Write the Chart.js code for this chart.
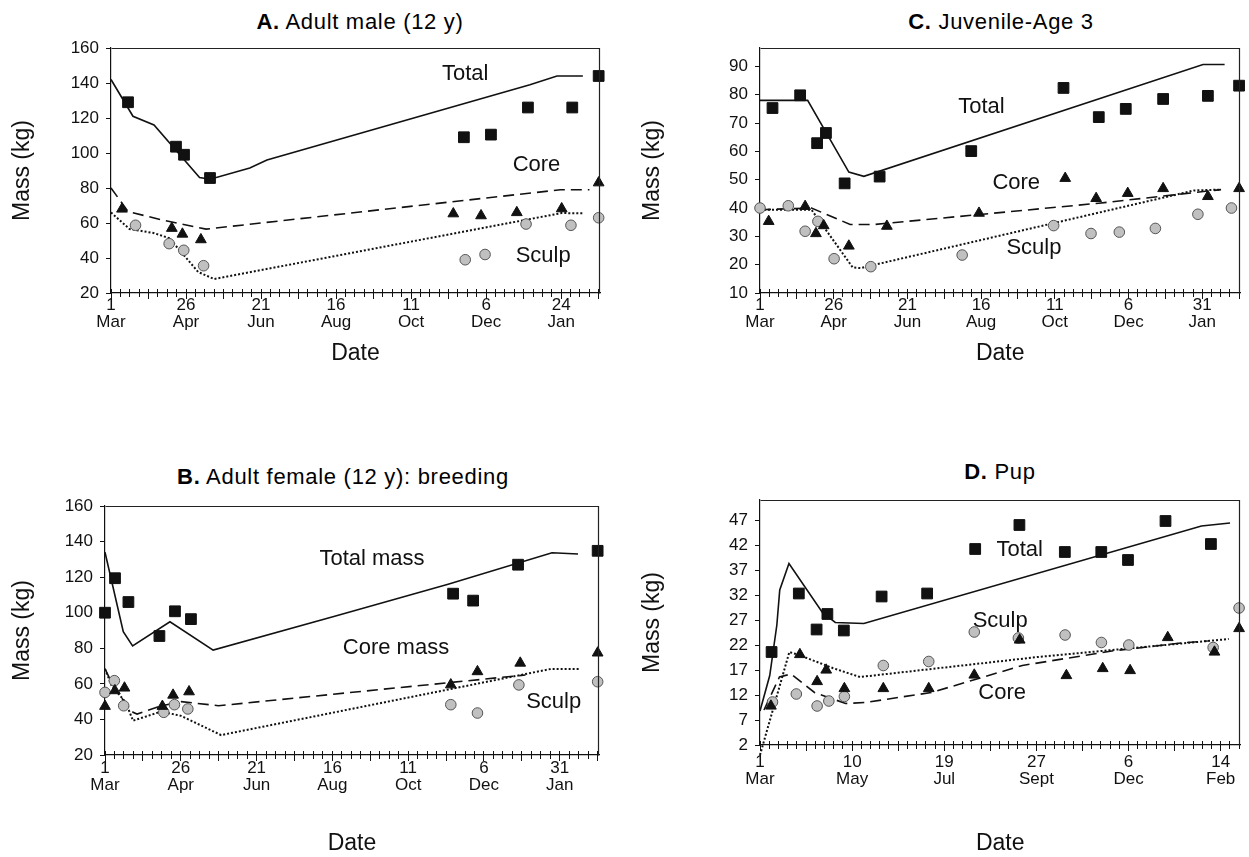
<!DOCTYPE html>
<html>
<head>
<meta charset="utf-8">
<script src="https://cdn.jsdelivr.net/npm/chart.js@4.4.1/dist/chart.umd.min.js"></script>
<style>
  body { margin: 0; background: #fff; width: 1249px; height: 857px; position: relative; overflow: hidden;
         font-family: "Liberation Sans", Arial, sans-serif; }
  canvas { position: absolute; }
  .ttl { position: absolute; font-size: 22px; letter-spacing: 0.7px; line-height: 22px; white-space: nowrap;
         transform: translate(-50%, -50%); color: #000; }
</style>
</head>
<body>
<div class="ttl" style="left:360px;top:22px"><b>A.</b> Adult male (12 y)</div>
<div class="ttl" style="left:1001px;top:22px"><b>C.</b> Juvenile-Age 3</div>
<div class="ttl" style="left:343px;top:477px"><b>B.</b> Adult female (12 y): breeding</div>
<div class="ttl" style="left:1000px;top:472px"><b>D.</b> Pup</div>

<canvas id="cA" width="625" height="367" style="left:0;top:0"></canvas>
<canvas id="cC" width="619" height="367" style="left:630px;top:0"></canvas>
<canvas id="cB" width="625" height="417" style="left:0;top:440px"></canvas>
<canvas id="cD" width="619" height="417" style="left:630px;top:440px"></canvas>

<script>
// x values are days after 1 March, y values are mass in kg

// A. Adult male (12 y)
const aTotalLine = [[0,142],[16.4,121],[32.1,116],[66.1,86],[74,85],[103.6,91.4],[116.4,96],[312.7,139],[332.9,144],[352.2,144]];
const aCoreLine  = [[0,80],[12.8,66.5],[39.5,61.5],[71,56.5],[335.4,79],[357.1,79]];
const aSculpLine = [[0,66],[13.8,56.6],[31.6,54.3],[43.4,51.4],[65.1,32],[76.9,28],[336.4,65.7],[353.2,65.5]];
const aTotalPts  = [[12.7,129],[48.5,103.6],[54.5,99],[73.9,85.7],[263.4,109],[283.6,110.5],[311.2,126],[344.3,126],[364,144]];
const aCorePts   = [[8.2,68],[45.4,57],[53.3,53.7],[67.1,50.5],[255.5,65.3],[276.2,64.2],[302.9,66],[336.4,68.2],[364,83]];
const aSculpPts  = [[18.3,58.7],[43.4,48.2],[54.3,44.4],[69.1,35.6],[264.4,39],[279.2,42],[309.8,59.4],[343.3,58.7],[364,63]];
const aMassTicks = [20,40,60,80,100,120,140,160];
const aLabelDays = [0,56,112,168,224,280,336];
const aLabels    = [['1','Mar'],['26','Apr'],['21','Jun'],['16','Aug'],['11','Oct'],['6','Dec'],['24','Jan']];
const aNotes     = [['Total',264.4,145],['Core',317.6,93],['Sculp',322.6,41]];

// B. Adult female (12 y): breeding
const bTotalLine = [[0,134],[13.5,89.3],[20.4,81.3],[48,94.9],[79.9,79],[169.7,98],[253.5,116],[330.3,133.7],[349.5,133]];
const bCoreLine  = [[0,68.4],[7.9,56.2],[20.7,44],[23.7,43],[40.4,47.4],[56.2,50],[83.9,47.7],[310.7,65]];
const bSculpLine = [[0,68.4],[4.9,59],[15.3,49.6],[20.7,39.3],[41.4,44.4],[56.2,42],[85.8,31.2],[329.5,68.4],[350.2,68.4]];
const bTotalPts  = [[0,100],[7.4,119.4],[17.3,106],[40.2,86.9],[51.7,100.8],[63.5,96.4],[257.2,110.7],[272,106.8],[305.2,127],[364,134.8]];
const bCorePts   = [[0,47.4],[7.3,56.2],[14.4,57.7],[42.4,47.4],[50.3,53.7],[62.1,55.6],[255.5,59.5],[275.2,66.9],[306.8,71.7],[364,77.4]];
const bSculpPts  = [[0,55.2],[6.9,61.8],[13.8,47.7],[43.4,44],[51.3,48.3],[61.2,45.9],[255.5,48.3],[275.2,43.6],[305.8,59.4],[364,61.2]];
const bMassTicks = [20,40,60,80,100,120,140,160];
const bLabelDays = [0,56,112,168,224,280,336];
const bLabels    = [['1','Mar'],['26','Apr'],['21','Jun'],['16','Aug'],['11','Oct'],['6','Dec'],['31','Jan']];
const bNotes     = [['Total mass',197.3,130.3],['Core mass',215,80],['Sculp',331.5,50]];

// C. Juvenile-Age 3
const cTotalLine = [[0,78],[36.2,78],[67.5,52.7],[78.9,51.2],[336.6,90.7],[353,90.7]];
const cCoreLine  = [[0,39.4],[39.1,40],[68.5,34.2],[87.1,34.2],[257.4,41.7],[350.3,46.5]];
const cSculpLine = [[0,39.4],[39.1,39.4],[70.5,19],[76.3,18.8],[329.8,46.2],[350.3,46.5]];
const cTotalPts  = [[9.5,75.3],[30.5,79.8],[43.4,62.9],[50.1,66.5],[64.3,48.7],[90.9,51.1],[160.5,60.1],[230.6,82.4],[257.4,72.1],[277.9,75],[306.3,78.5],[340.3,79.6],[364,83.2]];
const cCorePts   = [[6.6,35.3],[34.3,40.6],[42.5,31],[48.4,33.8],[67.5,26.6],[96.4,33.6],[166.4,38.2],[231.9,50.5],[255.4,43.4],[279.4,45.2],[306.3,46.9],[340.3,44.1],[364,46.9]];
const cSculpPts  = [[0,40],[21.5,40.8],[34.3,31.8],[44,35.3],[56.3,22.1],[84.2,19.3],[153.6,23.4],[223.1,33.8],[251.5,31],[273,31.5],[300.4,32.8],[332.7,37.8],[358.2,40]];
const cMassTicks = [10,20,30,40,50,60,70,80,90];
const cLabelDays = [0,56,112,168,224,280,336];
const cLabels    = [['1','Mar'],['26','Apr'],['21','Jun'],['16','Aug'],['11','Oct'],['6','Dec'],['31','Jan']];
const cNotes     = [['Total',168.3,75.7],['Core',194.7,48.8],['Sculp',208.1,26]];

// D. Pup
const dTotalLine = [[0,8.8],[7.4,15.9],[12.8,26],[15,33],[22,38.3],[47.4,28.5],[57.2,26.5],[78.9,26.3],[335.4,45.8],[357.1,46.4]];
const dCoreLine  = [[3,9],[14.8,15.6],[23.7,16.2],[41.4,12.5],[65.1,10.3],[79.9,10.5],[130.2,12.5],[199.3,17.9],[267.3,20.8],[323.6,22.5],[340.3,22.8]];
const dSculpLine = [[0,0],[22.3,20.6],[29.6,20],[55.2,17.4],[76,15.6],[211.1,19.6],[356.1,23.2]];
const dTotalPts  = [[8.8,20.6],[29.5,32.3],[43,25.1],[51.2,28.2],[63.7,24.9],[92.4,31.7],[127,32.3],[163.5,41.2],[197.1,46],[231.6,40.6],[259.3,40.6],[279.6,39],[308.1,46.8],[342.6,42.2]];
const dCorePts   = [[8.3,9.8],[30.3,20.1],[43.4,14.7],[50.3,17],[64.1,13.3],[93.7,13.3],[128.2,13.3],[162.8,16],[197.3,23],[232.8,15.9],[260.4,17.3],[281.2,16.9],[309.8,23.5],[345.3,20.6],[364,25.3]];
const dSculpPts  = [[9.5,10.6],[27.6,12.2],[43.4,9.8],[52.3,10.8],[64.1,11.7],[93.7,17.9],[128.2,18.7],[162.8,24.6],[196.3,23.4],[231.8,24],[259.4,22.5],[280.2,22],[344.3,21.5],[364,29.4]];
const dMassTicks = [2,7,12,17,22,27,32,37,42,47];
const dLabelDays = [0,70,140,210,280,350];
const dLabels    = [['1','Mar'],['10','May'],['19','Jul'],['27','Sept'],['6','Dec'],['14','Feb']];
const dNotes     = [['Total',197.3,41],['Sculp',182.5,26.8],['Core',184,12.5]];

Chart.defaults.font.family = '"Liberation Sans", Arial, sans-serif';
Chart.defaults.color = '#000';

const INK = '#111';

const notesPlugin = {
  id: 'notes',
  afterDatasetsDraw(chart, args, opts) {
    const { ctx, scales: { x, y } } = chart;
    ctx.save();
    ctx.font = '22px "Liberation Sans", Arial, sans-serif';
    ctx.fillStyle = INK;
    ctx.textAlign = 'center';
    ctx.textBaseline = 'middle';
    (opts.items || []).forEach(([text, dx, dy]) => {
      ctx.fillText(text, x.getPixelForValue(dx), y.getPixelForValue(dy));
    });
    ctx.restore();
  }
};

// box round the plot area (top and right sides)
const framePlugin = {
  id: 'frame',
  afterDraw(chart) {
    const { ctx, chartArea: a } = chart;
    ctx.save();
    ctx.strokeStyle = '#222';
    ctx.lineWidth = 1.2;
    ctx.beginPath();
    ctx.moveTo(Math.round(a.left) + 0.5, Math.round(a.top) + 0.5);
    ctx.lineTo(Math.round(a.right) - 0.5, Math.round(a.top) + 0.5);
    ctx.lineTo(Math.round(a.right) - 0.5, Math.round(a.bottom) + 0.5);
    ctx.stroke();
    ctx.restore();
  }
};

const steps = (step, max) => {
  const t = [];
  for (let v = 0; v <= max + 1e-6; v += step) t.push({ value: v });
  return t;
};
const xy = arr => arr.map(([x, y]) => ({ x, y }));

function lineSet(data, dash, width) {
  return { data: xy(data), showLine: true, pointRadius: 0, borderColor: INK, borderWidth: width,
           borderDash: dash, tension: 0, clip: false, order: 2 };
}
function pointSet(data, style, radius, fill, edge) {
  return { data: xy(data), showLine: false, pointStyle: style, pointRadius: radius,
           pointBackgroundColor: fill, pointBorderColor: edge, pointBorderWidth: 1, clip: false, order: 1 };
}

function makePanel(id, p) {
  const minorAxis = (len) => ({
    type: 'linear', axis: 'x', min: 0, max: p.xMax, position: { y: p.yMin },
    afterBuildTicks: s => { s.ticks = steps(7, p.xMax); },
    ticks: { display: false },
    grid: { display: true, drawOnChartArea: false, tickLength: len, color: INK, tickWidth: 1 },
    border: { display: false }
  });

  new Chart(document.getElementById(id), {
    type: 'scatter',
    data: {
      datasets: [
        pointSet(p.totalPts, 'rect', 7.6, INK, INK),
        pointSet(p.corePts, 'triangle', 6.2, INK, INK),
        pointSet(p.sculpPts, 'circle', 5.3, '#c0c0c0', '#555'),
        lineSet(p.total, [], 1.6),
        lineSet(p.core, [11, 6], 1.6),
        lineSet(p.sculp, [2, 2], 2)
      ]
    },
    options: {
      responsive: false,
      animation: false,
      layout: { padding: p.pad },
      plugins: { legend: { display: false }, tooltip: { enabled: false }, notes: { items: p.notes } },
      scales: {
        x: {
          type: 'linear', min: 0, max: p.xMax, position: 'bottom',
          afterBuildTicks: s => { s.ticks = steps(p.majorStep, p.xMax); },
          afterFit: s => { s.height = p.xHeight; },
          ticks: {
            autoSkip: false, maxRotation: 0, padding: p.labelPad, color: INK,
            font: { size: 17, lineHeight: 1.0 },
            callback: v => { const i = p.labelDays.indexOf(v); return i >= 0 ? p.labels[i] : ''; }
          },
          grid: { display: true, drawOnChartArea: false, tickLength: 6, color: INK },
          border: { color: INK, width: 1.2 },
          title: { display: true, text: 'Date', color: INK, font: { size: 23 }, padding: { bottom: 0, top: 0 } }
        },
        xm: minorAxis(4),
        xu: minorAxis(-4),
        y: {
          type: 'linear', min: p.yMin, max: p.yMax,
          afterBuildTicks: s => { s.ticks = p.yTicks.map(v => ({ value: v })); },
          afterFit: s => { s.width = p.yWidth; },
          ticks: { padding: 7, color: INK, font: { size: 17 } },
          grid: { display: true, drawOnChartArea: false, tickLength: 5, color: INK },
          border: { color: INK, width: 1.2 },
          title: { display: true, text: 'Mass (kg)', color: INK, font: { size: 23 }, padding: { top: 9, bottom: 0 } }
        }
      }
    },
    plugins: [notesPlugin, framePlugin]
  });
}

makePanel('cA', {
  total: aTotalLine, core: aCoreLine, sculp: aSculpLine,
  totalPts: aTotalPts, corePts: aCorePts, sculpPts: aSculpPts,
  yTicks: aMassTicks, yMin: 20, yMax: 160, xMax: 365, majorStep: 28,
  labelDays: aLabelDays, labels: aLabels, notes: aNotes, labelPad: -2,
  yWidth: 111, xHeight: 74, pad: { top: 48, right: 25, left: 0, bottom: 0 }
});
makePanel('cB', {
  total: bTotalLine, core: bCoreLine, sculp: bSculpLine,
  totalPts: bTotalPts, corePts: bCorePts, sculpPts: bSculpPts,
  yTicks: bMassTicks, yMin: 20, yMax: 160, xMax: 365, majorStep: 28,
  labelDays: bLabelDays, labels: bLabels, notes: bNotes, labelPad: -1,
  yWidth: 105, xHeight: 102, pad: { top: 66, right: 26, left: 0, bottom: 0 }
});
makePanel('cC', {
  total: cTotalLine, core: cCoreLine, sculp: cSculpLine,
  totalPts: cTotalPts, corePts: cCorePts, sculpPts: cSculpPts,
  yTicks: cMassTicks, yMin: 10, yMax: 96.5, xMax: 365, majorStep: 28,
  labelDays: cLabelDays, labels: cLabels, notes: cNotes, labelPad: -2,
  yWidth: 130, xHeight: 74, pad: { top: 48, right: 3, left: 0, bottom: 0 }
});
makePanel('cD', {
  total: dTotalLine, core: dCoreLine, sculp: dSculpLine,
  totalPts: dTotalPts, corePts: dCorePts, sculpPts: dSculpPts,
  yTicks: dMassTicks, yMin: 2, yMax: 51, xMax: 365, majorStep: 35,
  labelDays: dLabelDays, labels: dLabels, notes: dNotes, labelPad: 3,
  yWidth: 130, xHeight: 112, pad: { top: 60, right: 2, left: 0, bottom: 0 }
});
</script>
</body>
</html>
